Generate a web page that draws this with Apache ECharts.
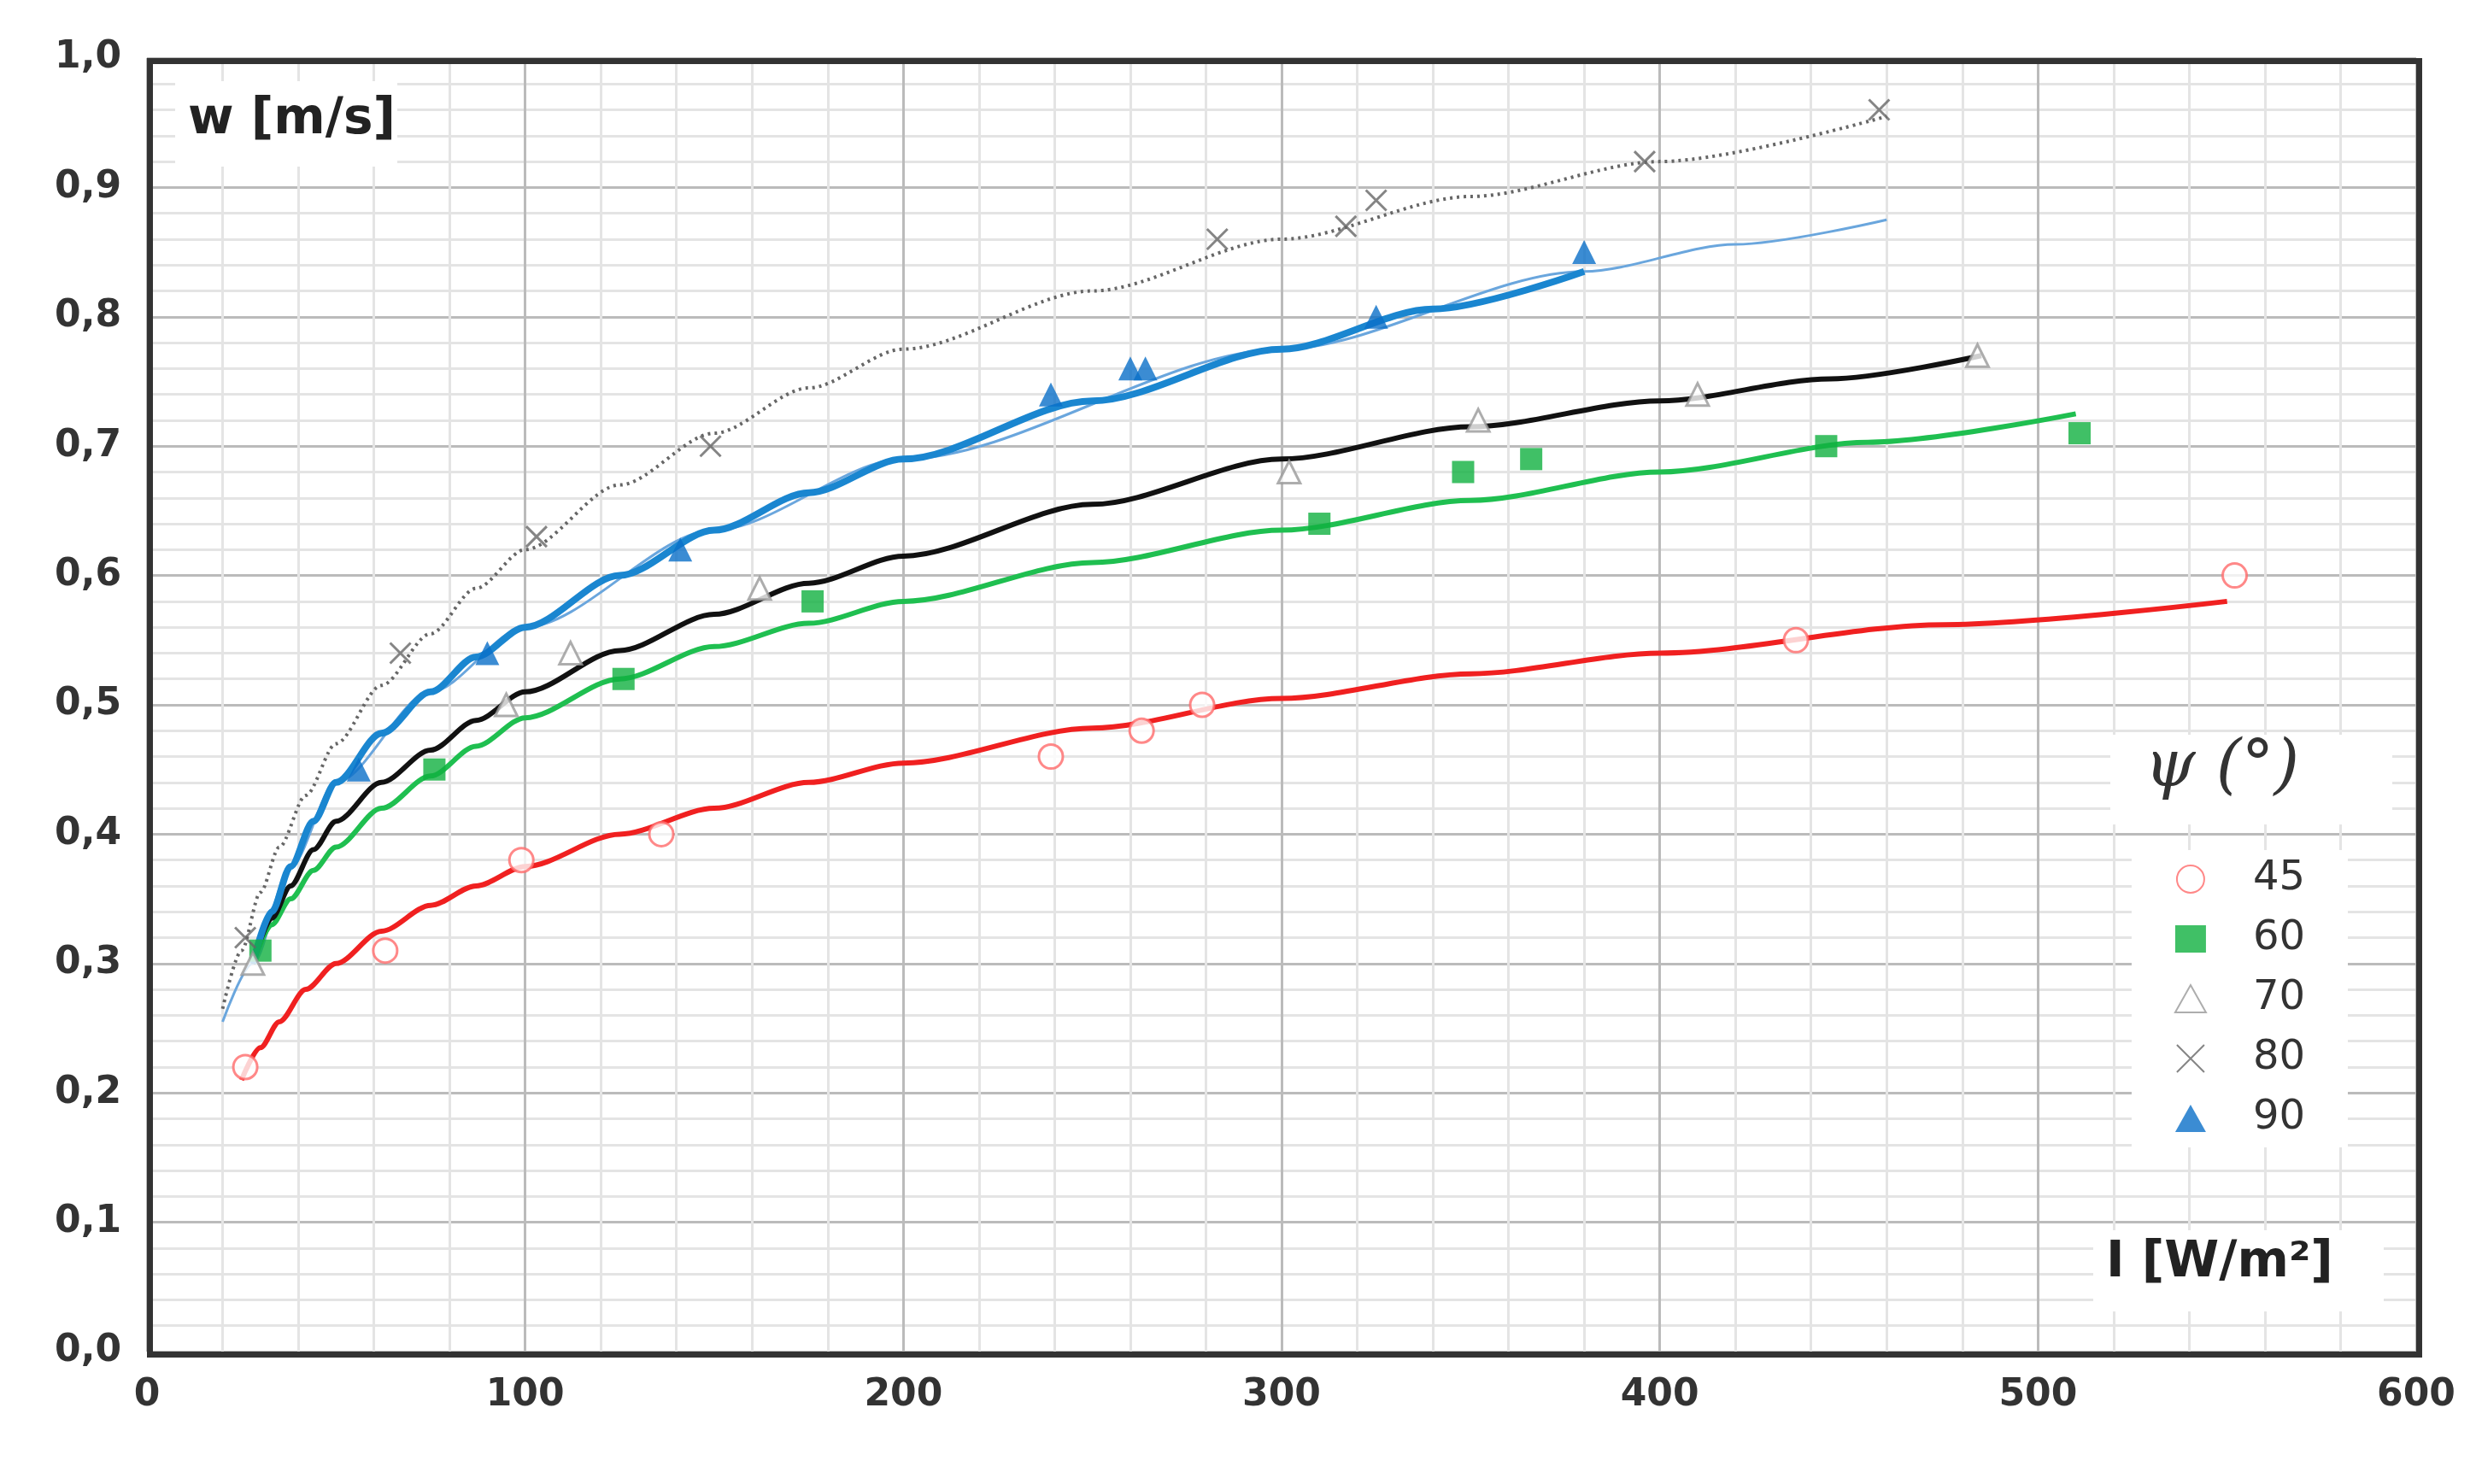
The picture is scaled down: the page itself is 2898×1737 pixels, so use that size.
<!DOCTYPE html>
<html lang="en" style="height: 100%">
<head>
  <meta charset="utf-8">
</head>
<body style="height: 100%; margin: 0; background: #fff">
  <div id="container" style="height: 100%"></div>
  <script type="text/javascript" src="https://fastly.jsdelivr.net/npm/echarts@6/dist/echarts.min.js"></script>
  <script type="text/javascript">
    // measured points [I, w]
    var pts45 = [[26,0.22],[63,0.31],[99,0.38],[136,0.40],[239,0.46],[263,0.48],[279,0.50],[436,0.55],[552,0.60]];
    var pts60 = [[30,0.31],[76,0.45],[126,0.52],[176,0.58],[310,0.64],[348,0.68],[366,0.69],[444,0.70],[511,0.71]];
    var pts70 = [[28,0.30],[95,0.50],[112,0.54],[162,0.59],[302,0.68],[352,0.72],[410,0.74],[484,0.77]];
    var pts80 = [[26,0.32],[67,0.54],[103,0.63],[149,0.70],[283,0.86],[317,0.87],[325,0.89],[396,0.92],[458,0.96]];
    var pts90 = [[56,0.45],[90,0.54],[141,0.62],[239,0.74],[260,0.76],[264,0.76],[325,0.80],[380,0.85]];

    // trend curves
    var fit45 = [[25,0.21],[30,0.235],[35,0.255],[42,0.28],[50,0.30],[62,0.325],[75,0.345],[87,0.36],[100,0.375],[125,0.40],[150,0.42],[175,0.44],[200,0.455],[250,0.482],[300,0.505],[350,0.524],[400,0.54],[475,0.562],[550,0.58]];
    var fit60 = [[28,0.30],[33,0.33],[38,0.35],[44,0.372],[50,0.39],[62,0.42],[75,0.445],[87,0.468],[100,0.49],[125,0.52],[150,0.545],[175,0.563],[200,0.58],[250,0.61],[300,0.635],[350,0.658],[400,0.68],[455,0.703],[510,0.725]];
    var fit70 = [[28,0.30],[33,0.335],[38,0.36],[44,0.388],[50,0.41],[62,0.44],[75,0.465],[87,0.488],[100,0.51],[125,0.542],[150,0.57],[175,0.594],[200,0.615],[250,0.655],[300,0.69],[350,0.715],[400,0.735],[445,0.752],[485,0.77]];
    var fit80 = [[20,0.265],[25,0.31],[30,0.355],[35,0.39],[42,0.43],[50,0.47],[62,0.515],[75,0.555],[87,0.59],[100,0.62],[125,0.67],[150,0.71],[175,0.745],[200,0.775],[250,0.82],[300,0.86],[350,0.893],[400,0.92],[460,0.955]];
    var fit90 = [[28,0.30],[33,0.34],[38,0.375],[44,0.41],[50,0.44],[62,0.478],[75,0.51],[87,0.537],[100,0.56],[125,0.60],[150,0.635],[175,0.664],[200,0.69],[250,0.735],[300,0.775],[340,0.806],[380,0.835]];
    var fit90ext = [[20,0.255],[28,0.30],[38,0.375],[50,0.44],[75,0.51],[100,0.56],[150,0.635],[200,0.69],[300,0.775],[380,0.835],[420,0.856],[460,0.875]];

    var dom = document.getElementById('container');
    var myChart = echarts.init(dom, null, { renderer: 'canvas' });
    var lbl = { color: '#333', fontFamily: 'DejaVu Sans', fontWeight: 'bold', fontSize: 44 };
    function curve(name, data, style, z) {
      return { name: name, type: 'line', smooth: 0.3, smoothMonotone: 'x', data: data, showSymbol: false, lineStyle: style, z: z };
    }
    var option = {
      backgroundColor: '#fff',
      animation: false,
      grid: { left: 172, right: 70, top: 68, bottom: 155 },
      xAxis: {
        type: 'value', min: 0, max: 600, interval: 100,
        axisLine: { show: false }, axisTick: { show: false },
        axisLabel: Object.assign({ margin: 30 }, lbl),
        splitLine: { lineStyle: { color: '#bbb', width: 3 } },
        minorTick: { show: false, splitNumber: 5 },
        minorSplitLine: { show: true, lineStyle: { color: '#e4e4e4', width: 3 } }
      },
      yAxis: {
        type: 'value', min: 0, max: 1, interval: 0.1,
        axisLine: { show: false }, axisTick: { show: false },
        axisLabel: Object.assign({ margin: 30, formatter: function (v) { return v.toFixed(1).replace('.', ','); } }, lbl),
        splitLine: { lineStyle: { color: '#bbb', width: 3 } },
        minorTick: { show: false, splitNumber: 5 },
        minorSplitLine: { show: true, lineStyle: { color: '#e4e4e4', width: 3 } }
      },
      legend: {
        right: 150, top: 995, orient: 'vertical', itemGap: 22, itemWidth: 36, itemHeight: 32,
        backgroundColor: '#fff', padding: [10, 50, 10, 50],
        data: ['45', '60', '70', '80', '90'],
        textStyle: { fontSize: 48, color: '#333', fontFamily: 'DejaVu Sans', padding: [0, 0, 0, 50] }
      },
      graphic: [
        { type: 'rect', left: 172, top: 68, z: 100, shape: { width: 2656, height: 1514 }, style: { fill: 'none', stroke: '#333', lineWidth: 7 } },
        { type: 'rect', left: 2470, top: 860, z: 50, shape: { width: 330, height: 105 }, style: { fill: '#fff' } },
        { type: 'text', left: 2510, top: 862, z: 51, style: { text: 'ψ (°)', font: 'italic 76px "DejaVu Serif"', fill: '#333' } },
        { type: 'rect', left: 205, top: 95, z: 50, shape: { width: 260, height: 100 }, style: { fill: '#fff' } },
        { type: 'text', left: 220, top: 112, z: 51, style: { text: 'w [m/s]', font: 'bold 58px "DejaVu Sans"', fill: '#222' } },
        { type: 'rect', left: 2450, top: 1440, z: 50, shape: { width: 340, height: 95 }, style: { fill: '#fff' } },
        { type: 'text', left: 2465, top: 1450, z: 51, style: { text: 'I [W/m²]', font: 'bold 58px "DejaVu Sans"', fill: '#222' } }
      ],
      series: [
        curve('fit90ext', fit90ext, { color: '#6aa6dd', width: 3 }, 2),
        curve('fit80', fit80, { color: '#666', width: 4, type: [3, 5] }, 3),
        curve('fit45', fit45, { color: '#f02020', width: 6 }, 3),
        curve('fit60', fit60, { color: '#1fbf50', width: 6 }, 3),
        curve('fit70', fit70, { color: '#111', width: 6 }, 3),
        curve('fit90', fit90, { color: '#1a86d0', width: 8 }, 3),
        { name: '45', type: 'scatter', data: pts45, symbol: 'circle', symbolSize: 28, itemStyle: { color: '#fff', borderColor: '#ff6a6a', borderWidth: 3 }, z: 5 },
        { name: '60', type: 'scatter', data: pts60, symbol: 'rect', symbolSize: 26, itemStyle: { color: '#10b040' }, z: 5 },
        { name: '70', type: 'scatter', data: pts70, symbol: 'triangle', symbolSize: 26, itemStyle: { color: '#fff', borderColor: '#999', borderWidth: 3 }, z: 5 },
        { name: '80', type: 'scatter', data: pts80, symbol: 'path://M0,0L2,2M2,0L0,2', symbolSize: 24, itemStyle: { color: 'none', borderColor: '#666', borderWidth: 3 }, z: 5 },
        { name: '90', type: 'scatter', data: pts90, symbol: 'triangle', symbolSize: 28, itemStyle: { color: '#0a6fc8' }, z: 5 }
      ]
    };
    myChart.setOption(option);
    window.addEventListener('resize', myChart.resize);
  </script>
</body>
</html>
